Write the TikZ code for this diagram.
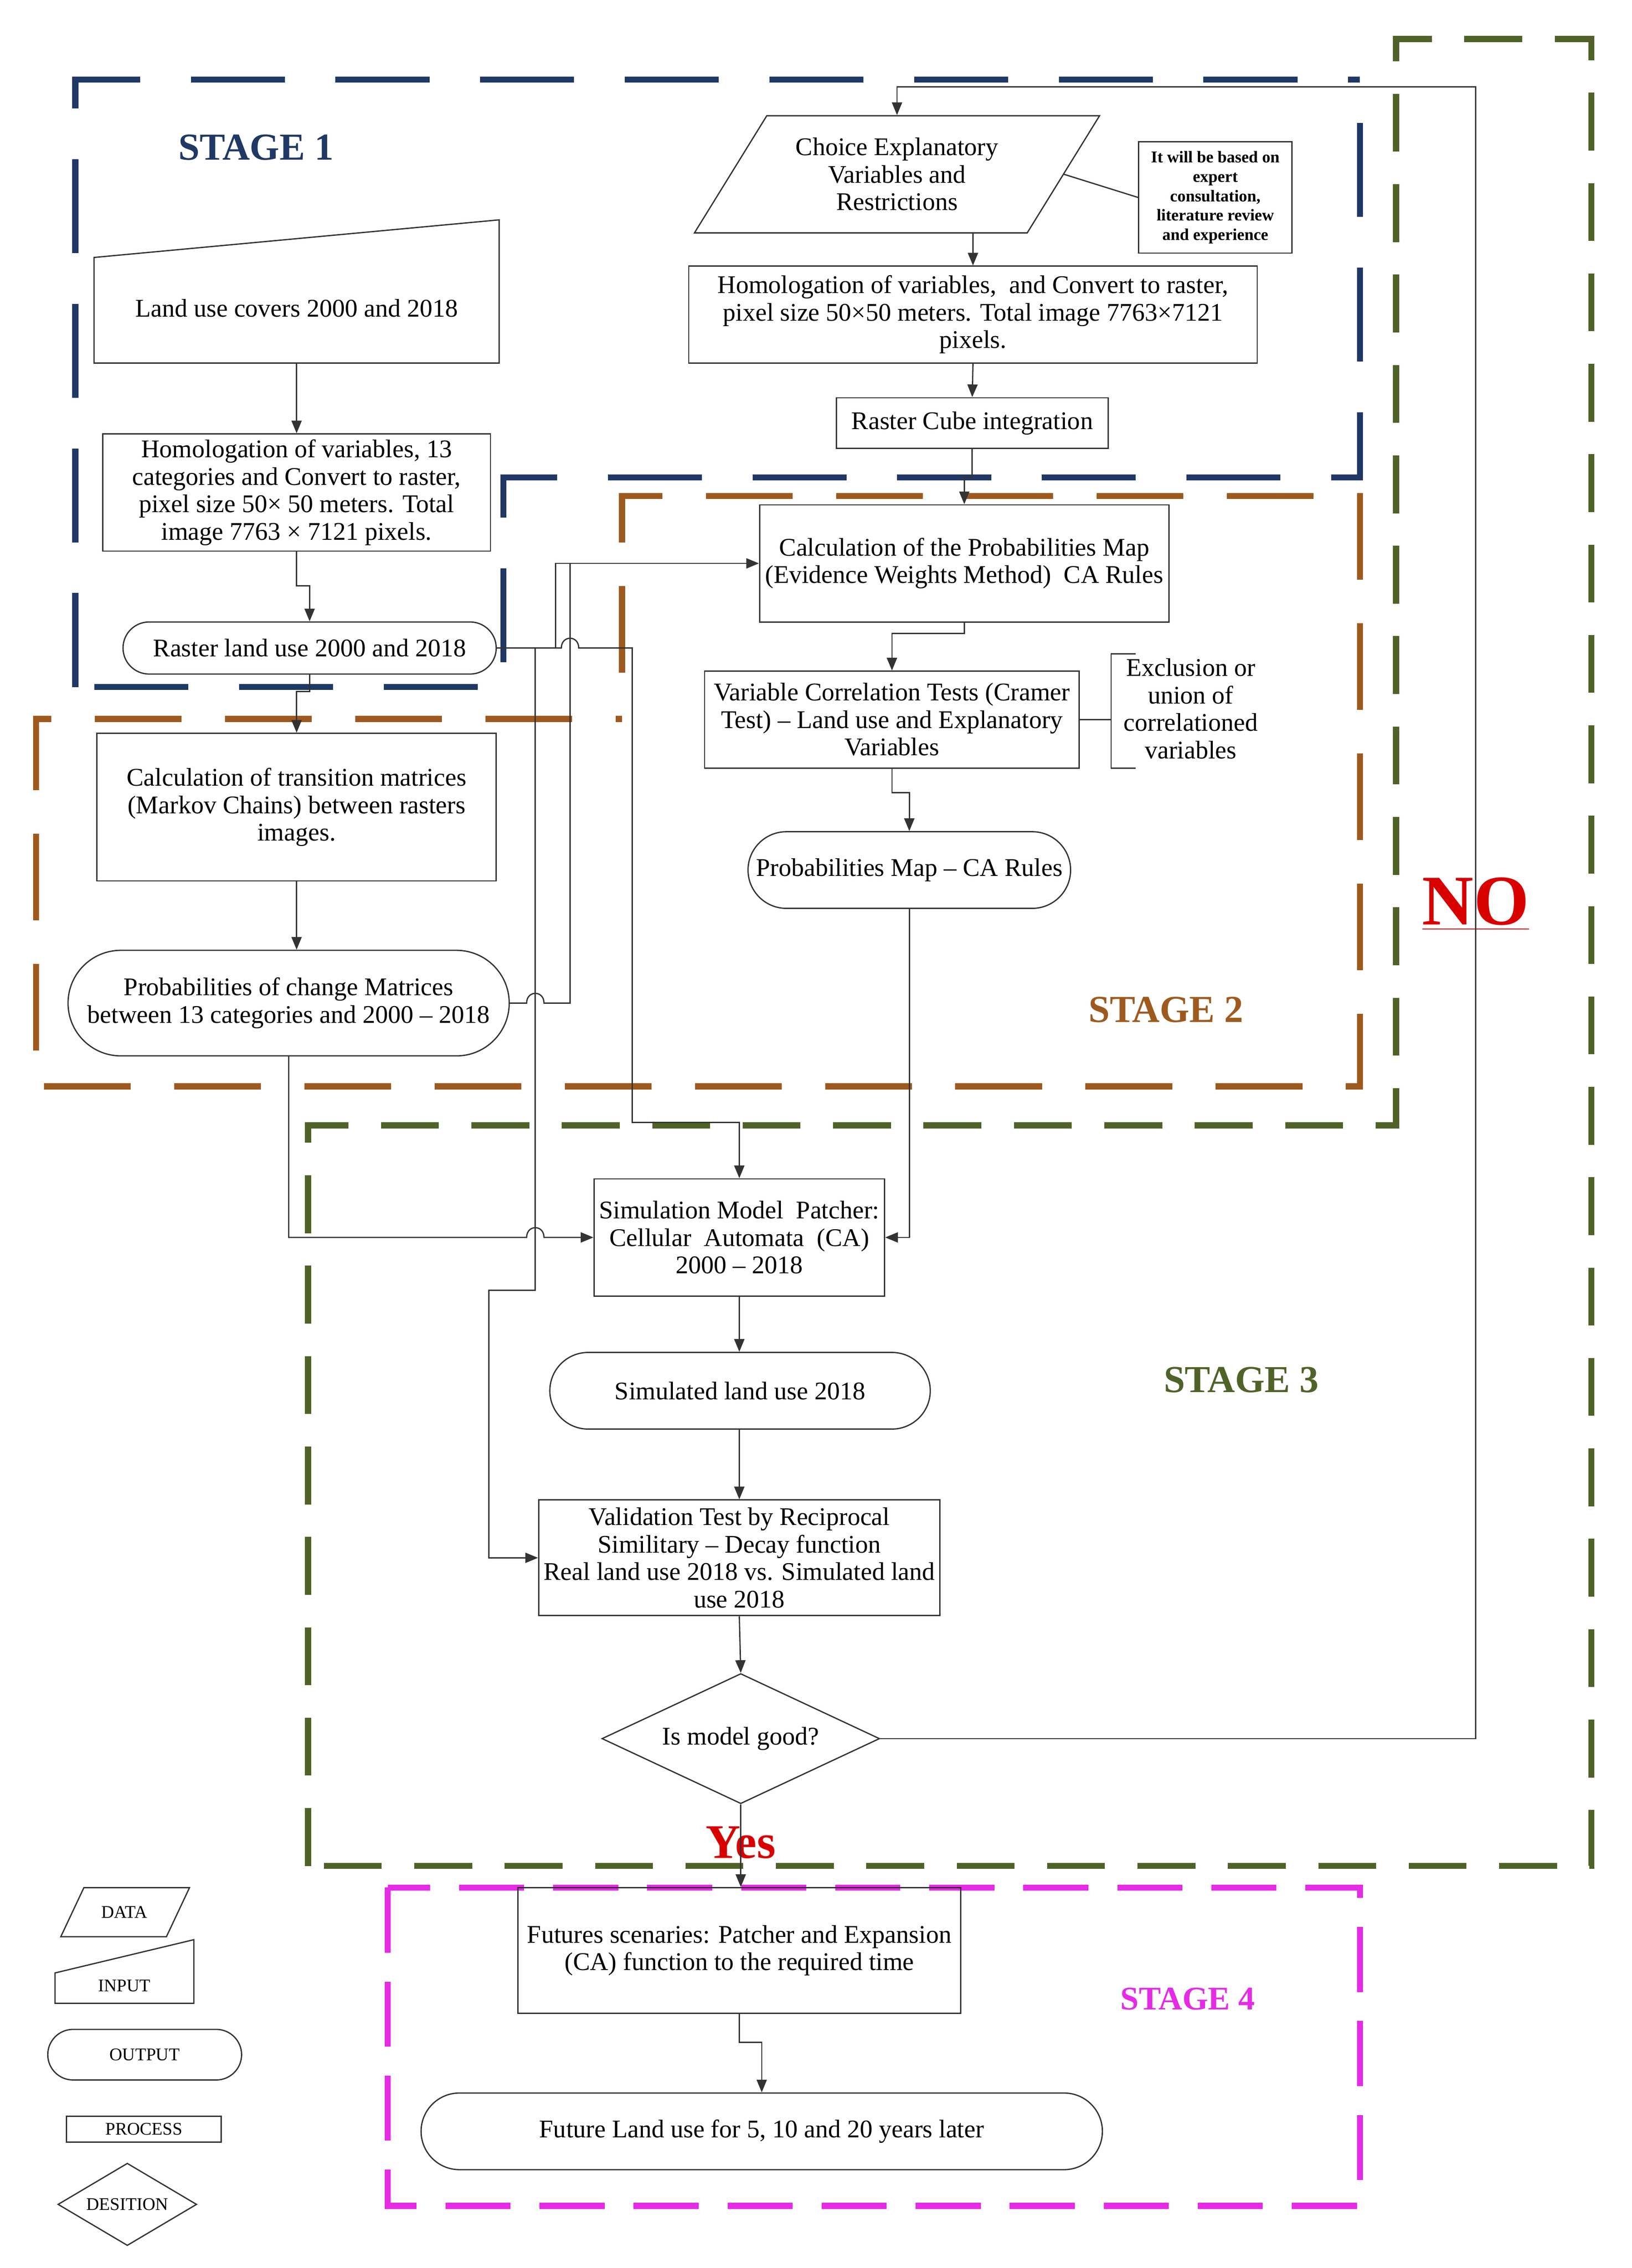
\documentclass[tikz,border=0pt]{standalone}
\usepackage{fontspec}
\setmainfont{Liberation Serif}
\usetikzlibrary{shapes.geometric,arrows.meta}
\definecolor{sblue}{HTML}{1F3864}
\definecolor{sbrown}{HTML}{9E5A1E}
\definecolor{sgreen}{HTML}{4F6228}
\definecolor{smag}{HTML}{E52BE5}
\begin{document}
\begin{tikzpicture}[x=0.02cm,y=-0.02cm,
  box/.style={draw=black!80,line width=0.5pt,align=center,inner sep=2pt,font=\fontsize{10}{10.8}\selectfont},
  rbox/.style={box},
  arr/.style={-{Triangle[length=5pt,width=4pt]},line width=0.5pt,draw=black!80},
  ln/.style={line width=0.5pt,draw=black!80},
  frame/.style={line width=2.4pt},
  stage/.style={font=\fontsize{15}{15}\bfseries\selectfont},
  leg/.style={font=\fontsize{7}{7}\selectfont}]
\useasboundingbox (0,0) rectangle (1128,1568);
\fill[white] (0,0) rectangle (1128,1568);
% frames
\draw[frame,sblue,dash pattern=on 1.3cm off 0.7cm] (52,475) -- (52,55) -- (940,55);
\draw[frame,sblue,dash pattern=on 1.3cm off 0.7cm] (940,85) -- (940,330) -- (348,330) -- (348,475) -- (52,475);
\draw[frame,sbrown,dash pattern=on 1.2cm off 0.6cm] (430,465) -- (430,343) -- (940,343) -- (940,751) -- (25,751) -- (25,497) -- (430,497);
\draw[frame,sgreen,dash pattern=on 0.8cm off 0.45cm] (213,1290) -- (213,778) -- (965,778) -- (965,27) -- (1100,27) -- (1100,1290) -- cycle;
\draw[frame,smag,dash pattern=on 0.9cm off 0.4cm] (268,1305) rectangle (940,1525);
\node[stage,sblue] (s1) at (177,102) {STAGE 1};
\node[stage,sbrown] (s2) at (806,698) {STAGE 2};
\node[stage,sgreen] (s3) at (858,954) {STAGE 3};
\node[font=\fontsize{13}{13}\bfseries\selectfont,smag] (s4) at (821,1382) {STAGE 4};
\node[font=\fontsize{28}{28}\bfseries\selectfont,red!85!black] (no) at (1020,625) {\underline{NO}};
\node[font=\fontsize{19}{19}\bfseries\selectfont,red!85!black] (yes) at (512,1274) {Yes};
% top right column
\draw[ln] (480,161) -- (530,80) -- (760,80) -- (710,161) -- cycle;
\node[box,draw=none,minimum width=4.6cm,minimum height=1.62cm] (choice) at (620,120.5) {Choice Explanatory\\Variables and\\Restrictions};
\node[box,minimum width=2.12cm,minimum height=1.54cm,font=\fontsize{6.5}{7.6}\bfseries\selectfont] (note) at (840,136.5) {It will be based on\\expert\\consultation,\\literature review\\and experience};
\node[box,minimum width=7.86cm,minimum height=1.34cm] (h2) at (672.5,217.5) {Homologation of variables,\ \ and Convert to raster,\\pixel size 50×50 meters. Total image 7763×7121\\pixels.};
\node[box,minimum width=3.76cm,minimum height=0.7cm] (cube) at (672,292.5) {Raster Cube integration};
% left column
\draw[ln] (65,251) -- (65,178) -- (345,152) -- (345,251) -- cycle;
\node[box,draw=none] (lc) at (205,213) {Land use covers 2000 and 2018};
\coordinate (lcb) at (205,251);
\node[box,minimum width=5.36cm,minimum height=1.62cm] (h1) at (205,340.5) {Homologation of variables, 13\\categories and Convert to raster,\\pixel size 50× 50 meters. Total\\image 7763 × 7121 pixels.};
\node[box,minimum width=5.16cm,minimum height=0.72cm,rounded corners=0.36cm] (rl) at (214,448) {Raster land use 2000 and 2018};
\node[box,minimum width=5.52cm,minimum height=2.04cm] (ct) at (205,558) {Calculation of transition matrices\\(Markov Chains) between rasters\\images.};
\node[box,minimum width=6.1cm,minimum height=1.46cm,rounded corners=0.73cm] (pc) at (199.5,693.5) {Probabilities of change Matrices\\between 13 categories and 2000 – 2018};
% middle
\node[box,minimum width=5.66cm,minimum height=1.62cm] (cpm) at (666.5,389.5) {Calculation of the Probabilities Map\\(Evidence Weights Method)\ \ CA Rules};
\node[box,minimum width=5.18cm,minimum height=1.34cm] (vc) at (616.5,497.5) {Variable Correlation Tests (Cramer\\Test) – Land use and Explanatory\\Variables};
\draw[ln] (785,452) -- (768,452) -- (768,531) -- (785,531);
\node[box,draw=none] (excl) at (823,490) {Exclusion or\\union of\\correlationed\\variables};
\node[box,minimum width=4.46cm,minimum height=1.06cm,rounded corners=0.53cm] (pm) at (628.5,601.5) {Probabilities Map – CA Rules};
\node[box,minimum width=3.84cm,minimum height=1.62cm] (sim) at (511,855.5) {Simulation Model\ \ Patcher:\\Cellular\ \ Automata\ \ (CA)\\2000 – 2018};
\node[box,minimum width=5.26cm,minimum height=1.06cm,rounded corners=0.53cm] (simd) at (511.5,961.5) {Simulated land use 2018};
\node[box,minimum width=5.36cm,minimum height=1.6cm] (val) at (511,1077) {Validation Test by Reciprocal\\Similitary – Decay function\\Real land use 2018 vs. Simulated land\\use 2018};
\node[box,diamond,aspect=2.13,minimum width=3.84cm,minimum height=1.8cm,inner sep=0pt] (dia) at (512,1202) {Is model good?};
\node[box,minimum width=6.12cm,minimum height=1.74cm] (fut) at (511,1348.5) {Futures scenaries: Patcher and Expansion\\(CA) function to the required time};
\node[box,minimum width=9.42cm,minimum height=1.06cm,rounded corners=0.53cm] (fl) at (526.5,1473.5) {Future Land use for 5, 10 and 20 years later};
% legend
\draw[ln] (42,1339) -- (58,1305) -- (131,1305) -- (115,1339) -- cycle;
\node[leg] (ldata) at (86,1322) {DATA};
\draw[ln] (38,1385) -- (38,1364) -- (134,1341) -- (134,1385) -- cycle;
\node[leg] (linput) at (86,1373) {INPUT};
\node[draw=black!80,line width=0.5pt,leg,minimum width=2.68cm,minimum height=0.7cm,rounded corners=0.35cm] (lout) at (100,1420.5) {OUTPUT};
\node[draw=black!80,line width=0.5pt,leg,minimum width=2.14cm,minimum height=0.36cm,inner sep=0pt] (lproc) at (99.5,1472) {PROCESS};
\node[draw=black!80,line width=0.5pt,leg,diamond,aspect=1.7,minimum width=1.92cm,minimum height=1.14cm,inner sep=0pt] (ldes) at (88,1524) {DESITION};
% connectors
\draw[arr] (lcb) -- (h1.north);
\draw[arr] (h1.south) -- (205,405) -| (rl.north);
\draw[arr] (rl.south) -- (214,478) -| (ct.north);
\draw[arr] (ct.south) -- (ct.south |- pc.north);
\draw[arr] (choice.south -| h2.north) -- (h2.north);
\draw[ln] (choice.east) -- (note.west);
\draw[arr] (h2.south) -- (cube.north);
\draw[arr] (cube.south) -- (672,330) -| (cpm.north);
\draw[arr] (cpm.south) -- (666.5,438) -| (vc.north);
\draw[arr] (vc.south) -- (616.5,548) -| (pm.north);
\draw[ln] (vc.east) -- (768,497.5);
\draw[arr] (rl.east) -| (384,389.5) -- (cpm.west);
\draw[arr] (rl.east) -- (370,448) -- (370,892) -- (338,892) |- (val.west);
\draw[arr] (384,448) -- (388,448) .. controls (388,439) and (400,439) .. (400,448) -- (437,448) -- (437,776) -| (sim.north);
\draw[ln] (pc.east) -- (364,693.5) .. controls (364,684.5) and (376,684.5) .. (376,693.5) -- (394,693.5) -- (394,389.5);
\draw[arr] (pc.south) -- (199.5,855.5) -- (364,855.5) .. controls (364,846.5) and (376,846.5) .. (376,855.5) -- (sim.west);
\draw[arr] (pm.south) |- (sim.east);
\draw[arr] (sim.south) -- (sim.south |- simd.north);
\draw[arr] (simd.south -| val.north) -- (val.north);
\draw[arr] (val.south) -- (dia.north);
\draw[arr] (dia.east) -| (1020,60) -| (choice.north);
\draw[arr] (dia.south) -- (dia.south |- fut.north);
\draw[arr] (fut.south) -- (511,1412) -| (fl.north);
\end{tikzpicture}
\end{document}
